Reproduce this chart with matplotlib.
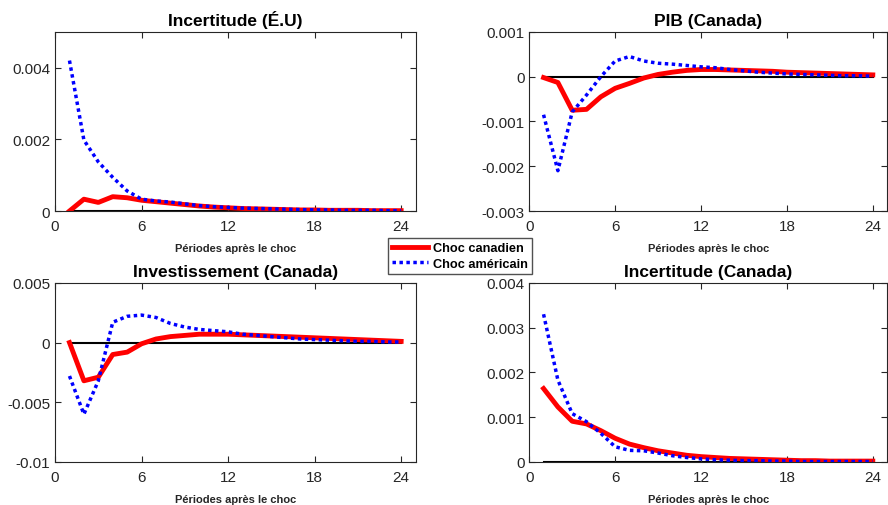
import matplotlib
matplotlib.use("Agg")
import matplotlib.pyplot as plt
from matplotlib.ticker import FuncFormatter

plt.rcParams["font.family"] = ["Liberation Sans", "DejaVu Sans"]

periods = list(range(1, 25))

# Incertitude (É.U)
us_unc_ca = [0.0, 0.00033, 0.00024, 0.0004, 0.00037, 0.0003, 0.00026, 0.00022, 0.00018, 0.00014,
             0.00011, 0.00009, 0.00007, 0.00006, 0.00005, 0.00004, 0.00003, 0.00003, 0.00002, 0.00002,
             0.00002, 0.00001, 0.00001, 0.00001]
us_unc_us = [0.0042, 0.00198, 0.00137, 0.00094, 0.00056, 0.00033, 0.00028, 0.00025, 0.0002, 0.00015,
             0.00012, 0.0001, 0.00008, 0.00007, 0.00006, 0.00005, 0.00004, 0.00003, 0.00003, 0.00002,
             0.00002, 0.00002, 0.00001, 0.00001]

# PIB (Canada)
gdp_ca = [-0.00002, -0.00013, -0.00075, -0.00073, -0.00045, -0.00026, -0.00015, -0.00003, 0.00005, 0.0001,
          0.00014, 0.00016, 0.00016, 0.00015, 0.00014, 0.00013, 0.00012, 0.0001, 0.00009, 0.00008,
          0.00007, 0.00006, 0.00005, 0.00004]
gdp_us = [-0.00085, -0.0021, -0.00079, -0.00041, 0.0, 0.00035, 0.00045, 0.00035, 0.0003, 0.00028,
          0.00025, 0.00022, 0.0002, 0.00016, 0.00013, 0.0001, 0.00008, 0.00006, 0.00005, 0.00004,
          0.00003, 0.00002, 0.00002, 0.00001]

# Investissement (Canada)
inv_ca = [0.0, -0.0032, -0.0029, -0.001, -0.0008, -0.0001, 0.0003, 0.0005, 0.0006, 0.0007,
          0.0007, 0.0007, 0.00065, 0.0006, 0.00055, 0.0005, 0.00045, 0.0004, 0.00035, 0.0003,
          0.00025, 0.0002, 0.00015, 0.0001]
inv_us = [-0.0028, -0.006, -0.0032, 0.0017, 0.0022, 0.0023, 0.0021, 0.0016, 0.0013, 0.0011,
          0.001, 0.0009, 0.0007, 0.0006, 0.0005, 0.0004, 0.0003, 0.00025, 0.0002, 0.00015,
          0.0001, 0.0001, 0.00005, 0.00005]

# Incertitude (Canada)
ca_unc_ca = [0.00164, 0.00123, 0.00091, 0.00085, 0.0007, 0.00053, 0.0004, 0.00032, 0.00025, 0.0002,
             0.00015, 0.00012, 0.0001, 0.00008, 0.00007, 0.00006, 0.00005, 0.00004, 0.00003, 0.00003,
             0.00002, 0.00002, 0.00002, 0.00002]
ca_unc_us = [0.0033, 0.00183, 0.00108, 0.0009, 0.00064, 0.00034, 0.00026, 0.00025, 0.0002, 0.00014,
             0.0001, 0.00007, 0.00005, 0.00004, 0.00003, 0.00003, 0.00002, 0.00002, 0.00001, 0.00001,
             0.00001, 0.00001, 0.00001, 0.00001]

titles = ["Incertitude (É.U)", "PIB (Canada)", "Investissement (Canada)", "Incertitude (Canada)"]
ylims = [(0, 0.005), (-0.003, 0.001), (-0.01, 0.005), (0, 0.004)]
yticks = [[0, 0.002, 0.004], [-0.003, -0.002, -0.001, 0, 0.001],
          [-0.01, -0.005, 0, 0.005], [0, 0.001, 0.002, 0.003, 0.004]]
series = [(us_unc_ca, us_unc_us), (gdp_ca, gdp_us), (inv_ca, inv_us), (ca_unc_ca, ca_unc_us)]

# axes positions in figure fractions (left, bottom, width, height)
positions = [
    [0.062, 0.581, 0.406, 0.354],
    [0.596, 0.581, 0.403, 0.354],
    [0.062, 0.085, 0.406, 0.354],
    [0.596, 0.085, 0.403, 0.354],
]

fig = plt.figure(figsize=(8.88, 5.06), dpi=100)

fmt = FuncFormatter(lambda v, p: "0" if v == 0 else "%g" % v)

for i in range(4):
    ax = fig.add_axes(positions[i])
    ca, us = series[i]
    ax.plot([1, 24], [0, 0], color="black", linewidth=1.5, zorder=1)
    l1, = ax.plot(periods, ca, color="red", linewidth=3.5, label="Choc canadien", zorder=2)
    l2, = ax.plot(periods, us, color="blue", linewidth=2.5, linestyle=(0, (1, 1.0)),
                  dash_capstyle="butt", label="Choc américain", zorder=3)
    ax.set_xlim(0, 25)
    ax.set_ylim(*ylims[i])
    ax.set_xticks([0, 6, 12, 18, 24])
    ax.set_yticks(yticks[i])
    ax.yaxis.set_major_formatter(fmt)
    ax.tick_params(direction="in", top=True, right=True, labelsize=11,
                   colors="#262626", length=4, width=0.8)
    ax.tick_params(axis="x", pad=6)
    for s in ax.spines.values():
        s.set_color("#262626")
        s.set_linewidth(0.8)
    ax.set_title(titles[i], fontsize=12.5, fontweight="bold", pad=5)
    ax.set_xlabel("Périodes après le choc", fontsize=8, fontweight="bold", color="#262626", labelpad=7)

fig.legend(handles=[l1, l2], loc="center", bbox_to_anchor=(0.518, 0.492),
           prop={"weight": "bold", "size": 9.2}, frameon=True, fancybox=False,
           edgecolor="#262626", handlelength=2.8, handletextpad=0.4, borderpad=0.35,
           labelspacing=0.25, borderaxespad=0)

fig.savefig("out.png", dpi=100)
